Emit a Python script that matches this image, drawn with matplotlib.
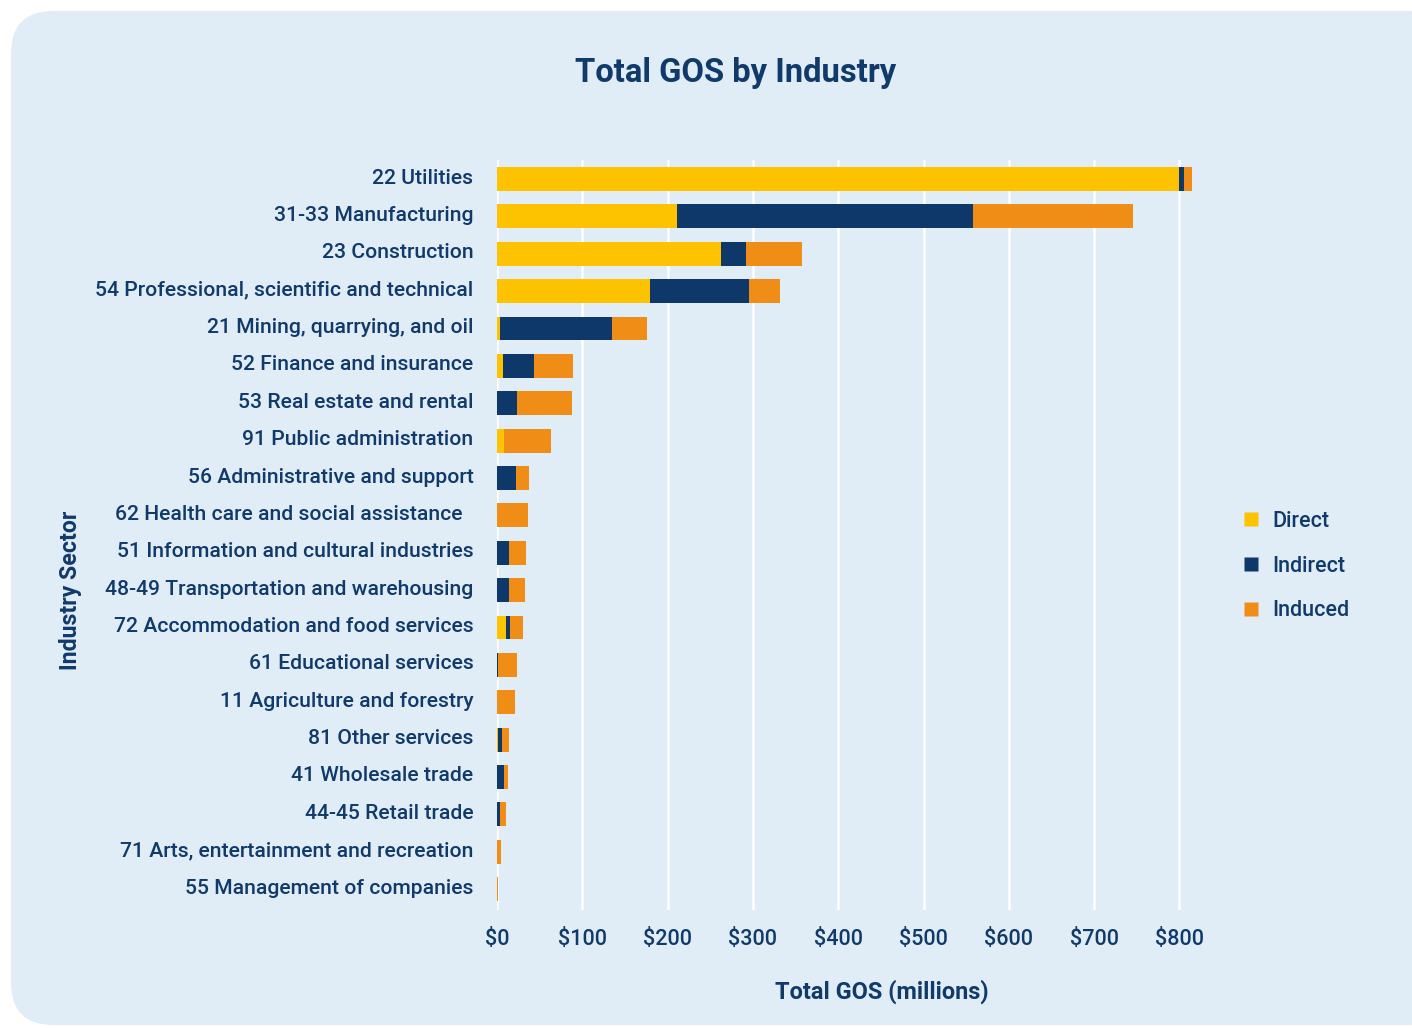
import matplotlib.pyplot as plt
from matplotlib.patches import FancyBboxPatch
from matplotlib.lines import Line2D
import matplotlib.transforms as mtransforms
import numpy as np

industries = [
    "22 Utilities",
    "31-33 Manufacturing",
    "23 Construction",
    "54 Professional, scientific and technical",
    "21 Mining, quarrying, and oil",
    "52 Finance and insurance",
    "53 Real estate and rental",
    "91 Public administration",
    "56 Administrative and support",
    "62 Health care and social assistance  ",
    "51 Information and cultural industries",
    "48-49 Transportation and warehousing",
    "72 Accommodation and food services",
    "61 Educational services",
    "11 Agriculture and forestry",
    "81 Other services",
    "41 Wholesale trade",
    "44-45 Retail trade",
    "71 Arts, entertainment and recreation",
    "55 Management of companies",
]
direct = [800, 211, 263, 179.5, 4, 7, 0, 8.6, 0, 0, 0, 0, 11, 0, 0, 1.5, 0, 0, 0, 0]
indirect = [5.5, 347, 28.5, 116.5, 130.5, 36.6, 23, 0, 22, 0, 14, 14, 4, 1, 0, 4, 8.6, 4, 0, 0]
induced = [9.5, 188, 66, 36, 41, 45.7, 65, 55, 15, 36, 20, 19, 15, 23, 21, 8.5, 4, 6, 4.5, 1.5]

x_ticks = [0, 100, 200, 300, 400, 500, 600, 700, 800]
x_tick_labels = ["$0", "$100", "$200", "$300", "$400", "$500", "$600", "$700", "$800"]

DIRECT_C = "#FDC300"
INDIRECT_C = "#0F386A"
INDUCED_C = "#EF8D17"
TEXT_C = "#103A6A"
BG = "#E0ECF6"

plt.rcParams["font.family"] = ["Roboto", "DejaVu Sans"]

W, H = 1412, 1028
fig = plt.figure(figsize=(W / 100, H / 100), dpi=100)
fig.patch.set_facecolor("white")

# rounded card background
card = FancyBboxPatch((11 / W, 3 / H), 1440 / W, 1014 / H,
                      boxstyle="round,pad=0,rounding_size=0.03",
                      transform=fig.transFigure, facecolor=BG, edgecolor="none",
                      mutation_aspect=W / H, zorder=-5)
fig.patches.append(card)

left, right = 497 / W, 1205 / W
top, bottom = 1 - 160 / H, 1 - 910 / H
ax = fig.add_axes([left, bottom, right - left, top - bottom])
ax.set_zorder(2)
ax.patch.set_alpha(0)

y = np.arange(len(industries))
d = np.array(direct)
i = np.array(indirect)
n = np.array(induced)
h = 0.64
ax.barh(y, d, height=h, color=DIRECT_C, label="Direct", zorder=3)
ax.barh(y, i, left=d, height=h, color=INDIRECT_C, label="Indirect", zorder=3)
ax.barh(y, n, left=d + i, height=h, color=INDUCED_C, label="Induced", zorder=3)

ax.set_xlim(0, 830)
ax.set_ylim(19.56, -0.51)
ax.set_xticks(x_ticks)
ax.set_xticklabels(x_tick_labels)
ax.set_yticks(y)
ax.set_yticklabels(industries)
ax.grid(axis="x", color="white", linewidth=1.8, zorder=1)
ax.set_axisbelow(True)
for s in ax.spines.values():
    s.set_visible(False)
ax.tick_params(axis="both", length=0, colors=TEXT_C)
ax.tick_params(axis="y", pad=17)
ax.tick_params(axis="x", pad=14)
# nudge category labels up a little, like the original
shift = mtransforms.ScaledTranslation(0, 3 / 100, fig.dpi_scale_trans)
for lab in ax.get_yticklabels():
    lab.set_fontsize(15.2)
    lab.set_fontweight("medium")
    lab.set_color(TEXT_C)
    lab.set_va("center_baseline")
    lab.set_transform(lab.get_transform() + shift)
for lab in ax.get_xticklabels():
    lab.set_fontsize(15.5)
    lab.set_fontweight("medium")
    lab.set_color(TEXT_C)

fig.text(736 / W, 1 - 73 / H, "Total GOS by Industry", ha="center", va="center",
         fontsize=23.6, fontweight="bold", color=TEXT_C)
fig.text(882 / W, 1 - 992 / H, "Total GOS (millions)", ha="center", va="center",
         fontsize=16.9, fontweight="bold", color=TEXT_C)
fig.text(70 / W, 1 - 590 / H, "Industry Sector", ha="center", va="center",
         rotation=90, fontsize=16.7, fontweight="bold", color=TEXT_C)

handles = [Line2D([], [], marker="s", linestyle="none", markersize=10.5,
                  markerfacecolor=c, markeredgecolor="none")
           for c in (DIRECT_C, INDIRECT_C, INDUCED_C)]
leg = fig.legend(handles, ["Direct", "Indirect", "Induced"],
                 loc="center left", bbox_to_anchor=(1221 / W, 1 - 566 / H),
                 frameon=False, fontsize=15.5, labelspacing=1.1,
                 handletextpad=0.5, handlelength=1.0)
for t in leg.get_texts():
    t.set_color(TEXT_C)
    t.set_fontweight("medium")

fig.savefig("out.png", dpi=100)
